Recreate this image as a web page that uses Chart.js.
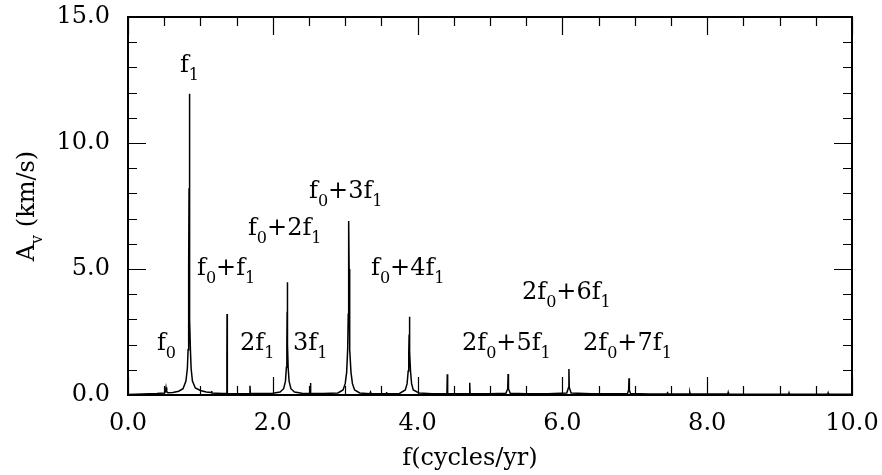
<!DOCTYPE html>
<html>
<head>
<meta charset="utf-8">
<script src="https://cdn.jsdelivr.net/npm/chart.js@4/dist/chart.umd.min.js"></script>
<style>
html,body{margin:0;padding:0;background:#fff;}
#c{display:block;}
</style>
</head>
<body>
<canvas id="c" width="882" height="475"></canvas>
<script>
// ---- data ----
const freq = [
  0.00, 0.20, 0.40, 0.50, 0.515, 0.525, 0.535, 0.55, 0.62, 0.70, 0.76, 0.80,
  0.82, 0.83, 0.836, 0.840, 0.843, 0.846, 0.849, 0.852, 0.856, 0.862, 0.872, 0.89,
  0.93, 1.00, 1.08, 1.15, 1.155, 1.16, 1.30, 1.362, 1.366, 1.368, 1.370, 1.374,
  1.50, 1.60, 1.68, 1.685, 1.690, 1.85, 2.00, 2.10, 2.15, 2.175, 2.188, 2.194,
  2.198, 2.200, 2.202, 2.206, 2.212, 2.225, 2.25, 2.30, 2.40, 2.515, 2.520, 2.525,
  2.70, 2.90, 2.97, 3.00, 3.020, 3.034, 3.042, 3.046, 3.050, 3.054, 3.058, 3.066,
  3.080, 3.10, 3.13, 3.20, 3.34, 3.35, 3.36, 3.565, 3.57, 3.575, 3.75, 3.83,
  3.855, 3.870, 3.878, 3.883, 3.886, 3.889, 3.894, 3.902, 3.917, 3.94, 4.02, 4.20,
  4.405, 4.410, 4.415, 4.60, 4.715, 4.720, 4.725, 5.00, 5.22, 5.245, 5.250, 5.255,
  5.28, 5.50, 5.80, 6.06, 6.085, 6.090, 6.095, 6.12, 6.40, 6.70, 6.90, 6.915,
  6.920, 6.925, 6.94, 7.20, 7.445, 7.45, 7.455, 7.755, 7.76, 7.765, 8.285, 8.29,
  8.295, 8.70, 9.125, 9.13, 9.135, 9.665, 9.67, 9.675, 10.0
];
const amp = [
  0.02, 0.04, 0.06, 0.08, 0.12, 0.30, 0.12, 0.09, 0.10, 0.15, 0.25, 0.55,
  1.05, 1.8, 3.0, 5.0, 8.2, 11.95, 8.2, 5.0, 3.0, 1.8, 1.05, 0.55,
  0.28, 0.18, 0.12, 0.10, 0.16, 0.08, 0.06, 0.06, 1.5, 3.21, 1.5, 0.06,
  0.05, 0.05, 0.06, 0.37, 0.06, 0.06, 0.07, 0.12, 0.25, 0.55, 1.1, 2.0,
  3.3, 4.47, 3.3, 2.0, 1.1, 0.55, 0.25, 0.12, 0.07, 0.06, 0.48, 0.06,
  0.06, 0.08, 0.2, 0.45, 0.9, 1.8, 3.2, 5.0, 6.9, 5.0, 3.2, 1.8,
  0.9, 0.45, 0.2, 0.08, 0.05, 0.12, 0.05, 0.05, 0.12, 0.05, 0.06, 0.2,
  0.45, 0.95, 1.7, 2.4, 3.11, 2.4, 1.7, 0.95, 0.45, 0.2, 0.08, 0.05,
  0.05, 0.82, 0.05, 0.05, 0.05, 0.49, 0.05, 0.05, 0.07, 0.25, 0.83, 0.25,
  0.07, 0.05, 0.05, 0.08, 0.3, 1.03, 0.3, 0.08, 0.05, 0.05, 0.06, 0.2,
  0.66, 0.2, 0.06, 0.04, 0.04, 0.13, 0.04, 0.04, 0.10, 0.04, 0.04, 0.10,
  0.04, 0.03, 0.03, 0.08, 0.03, 0.03, 0.08, 0.03, 0.03
];
// peak labels: text ("_" marks a one-character subscript), x and y in data units
const peakLabels = ["f_1", "f_0+f_1", "f_0", "2f_1", "3f_1", "f_0+2f_1", "f_0+3f_1", "f_0+4f_1", "2f_0+5f_1", "2f_0+6f_1", "2f_0+7f_1"];
const peakLabelX = [0.718, 0.953, 0.40, 1.547, 2.28, 1.657, 2.50, 3.357, 4.613, 5.442, 6.285];
const peakLabelY = [12.82, 4.76, 1.79, 1.79, 1.79, 6.35, 7.82, 4.76, 1.79, 3.81, 1.79];
const xTitle = "f(cycles/yr)";
const yTitleMain = "A";
const yTitleSub = "v";
const yTitleRest = " (km/s)";

const FONT = '"DejaVu Serif", "Liberation Serif", serif';
const MAIN = 24, SUB = 16, SUBDROP = 8;

function drawRich(ctx, str, x, y) {
  let cx = x;
  for (let i = 0; i < str.length; i++) {
    const ch = str[i];
    if (ch === '_' && i + 1 < str.length) {
      const s = str[++i];
      ctx.font = SUB + 'px ' + FONT;
      ctx.fillText(s, cx, y + SUBDROP);
      cx += ctx.measureText(s).width;
    } else {
      ctx.font = MAIN + 'px ' + FONT;
      ctx.fillText(ch, cx, y);
      cx += ctx.measureText(ch).width;
    }
  }
}

const framePlugin = {
  id: 'frame',
  afterDraw(chart) {
    const ctx = chart.ctx;
    const {left, right, top, bottom} = chart.chartArea;
    const xs = chart.scales.x, ys = chart.scales.y;
    ctx.save();
    ctx.strokeStyle = '#000';
    ctx.lineWidth = 2;
    ctx.strokeRect(left, top, right - left, bottom - top);
    ctx.lineWidth = 1.2;
    ctx.beginPath();
    xs.ticks.forEach(t => {
      const px = Math.round(xs.getPixelForValue(t.value)) + 0.5;
      const len = Math.abs(t.value % 2) < 1e-6 ? 18 : 9;
      ctx.moveTo(px, bottom); ctx.lineTo(px, bottom - len);
      ctx.moveTo(px, top); ctx.lineTo(px, top + len);
    });
    ys.ticks.forEach(t => {
      const py = Math.round(ys.getPixelForValue(t.value)) + 0.5;
      const len = Math.abs(t.value % 5) < 1e-6 ? 18 : 9;
      ctx.moveTo(left, py); ctx.lineTo(left + len, py);
      ctx.moveTo(right, py); ctx.lineTo(right - len, py);
    });
    ctx.stroke();

    // peak labels
    ctx.fillStyle = '#000';
    ctx.textBaseline = 'alphabetic';
    ctx.textAlign = 'left';
    for (let i = 0; i < peakLabels.length; i++) {
      drawRich(ctx, peakLabels[i], xs.getPixelForValue(peakLabelX[i]), ys.getPixelForValue(peakLabelY[i]));
    }

    // x axis title
    ctx.font = MAIN + 'px ' + FONT;
    ctx.textAlign = 'center';
    ctx.fillText(xTitle, 470, 465);

    // y axis title (rotated)
    ctx.translate(34, (top + bottom) / 2);
    ctx.rotate(-Math.PI / 2);
    ctx.textAlign = 'left';
    ctx.font = MAIN + 'px ' + FONT;
    const wA = ctx.measureText(yTitleMain).width;
    ctx.font = SUB + 'px ' + FONT;
    const wv = ctx.measureText(yTitleSub).width;
    ctx.font = MAIN + 'px ' + FONT;
    const wR = ctx.measureText(yTitleRest).width;
    let sx = -(wA + wv + wR) / 2;
    ctx.fillText(yTitleMain, sx, 0); sx += wA;
    ctx.font = SUB + 'px ' + FONT;
    ctx.fillText(yTitleSub, sx, SUBDROP); sx += wv;
    ctx.font = MAIN + 'px ' + FONT;
    ctx.fillText(yTitleRest, sx, 0);
    ctx.restore();
  }
};

const points = freq.map((f, i) => ({x: f, y: amp[i]}));

new Chart(document.getElementById('c'), {
  type: 'line',
  data: {
    datasets: [{
      data: points,
      borderColor: '#000',
      borderWidth: 1.5,
      pointRadius: 0,
      tension: 0,
      fill: false
    }]
  },
  options: {
    responsive: false,
    animation: false,
    events: [],
    layout: {padding: {top: 17, right: 30, left: 0, bottom: 0}},
    plugins: {legend: {display: false}, tooltip: {enabled: false}},
    scales: {
      x: {
        type: 'linear', min: 0, max: 10,
        grid: {display: false, drawTicks: false},
        border: {display: false},
        ticks: {
          stepSize: 0.5, autoSkip: false, maxRotation: 0, padding: 14,
          color: '#000', font: {family: FONT, size: MAIN},
          callback: v => (Math.abs(v % 2) < 1e-6 ? v.toFixed(1) : '')
        },
        afterFit: s => { s.height = 80; s.paddingLeft = 0; s.paddingRight = 0; }
      },
      y: {
        type: 'linear', min: 0, max: 15,
        grid: {display: false, drawTicks: false},
        border: {display: false},
        ticks: {
          stepSize: 1, autoSkip: false, padding: 18,
          color: '#000', font: {family: FONT, size: MAIN},
          callback: v => (Math.abs(v % 5) < 1e-6 ? v.toFixed(1) : '')
        },
        afterFit: s => { s.width = 128; s.paddingTop = 0; s.paddingBottom = 0; }
      }
    }
  },
  plugins: [framePlugin]
});
</script>
</body>
</html>
